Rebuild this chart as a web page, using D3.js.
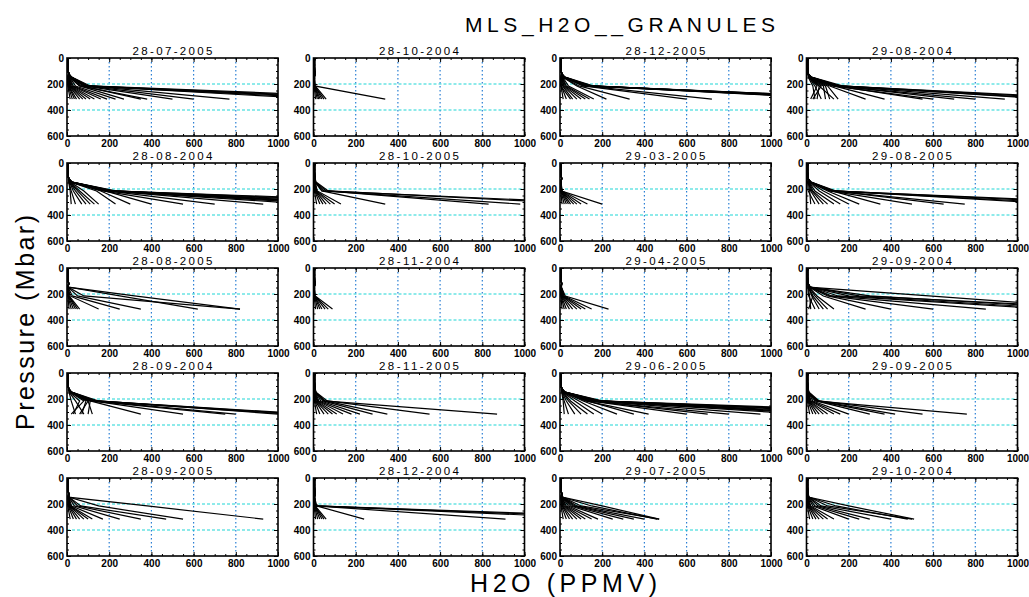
<!DOCTYPE html>
<html>
<head>
<meta charset="utf-8">
<script src="https://cdn.jsdelivr.net/npm/d3@7"></script>
<style>
  body { margin: 0; background: #fff; }
  text { font-family: "Liberation Sans", Arial, sans-serif; }
</style>
</head>
<body>
<div id="chart"></div>
<script>
// panel dates, row by row
var dates = ["28-07-2005", "28-10-2004", "28-12-2005", "29-08-2004",
             "28-08-2004", "28-10-2005", "29-03-2005", "29-08-2005",
             "28-08-2005", "28-11-2004", "29-04-2005", "29-09-2004",
             "28-09-2004", "28-11-2005", "29-06-2005", "29-09-2005",
             "28-09-2005", "28-12-2004", "29-07-2005", "29-10-2004"];

// pressure levels (mbar) of each profile value, and the shared upper part
var levels = [316, 215, 147];
var upperLevels = [121, 100, 68, 46, 22, 10, 1, 0.1];
var upperH2O = [8, 6, 5, 5, 5, 6, 7, 5];

// tick labels
var xTicks = [0, 200, 400, 600, 800, 1000];
var yTicks = [0, 200, 400, 600];

// H2O (ppmv) at 316, 215, 147 mbar for every profile of a granule
var profiles = [
  [[15,4,3],[25,6,4],[35,8,4],[45,8,5],[60,10,5],[75,12,6],[90,14,6],[110,16,7],[130,20,8],[160,25,9],[190,30,10],[230,40,12],
   [270,60,12],[350,70,14],[380,60,12],[500,80,15],[600,90,16],[770,100,18],
   [1200,90,18],[1320,80,20],[1420,100,20],[1550,90,22],[1700,110,22]],
  [[10,3,3],[18,4,3],[25,5,4],[32,4,4],[40,6,4],[50,5,5],[60,8,5],[340,5,4]],
  [[15,5,4],[30,6,5],[50,4,4],[60,12,6],[80,16,8],[100,20,8],[120,25,10],[140,30,10],[160,40,12],
   [220,80,12],[330,90,14],[600,110,15],[720,120,16],
   [1350,130,20],[1400,140,22],[1450,120,20],[1500,150,22],[1550,130,20],[1600,140,22],[1450,160,24],[1650,110,18]],
  [[20,50,10],[30,70,12],[40,30,8],[50,60,10],[70,40,10],[90,80,12],[110,90,14],[130,60,12],[150,100,15],
   [280,110,15],[370,130,16],[550,140,18],[600,120,16],[700,150,18],[800,130,18],[940,150,20],
   [1200,140,20],[1300,160,22],[1400,150,22],[1150,170,24]],
  [[20,15,8],[40,20,10],[70,30,12],[90,40,12],[110,50,14],[130,60,15],[150,80,16],
   [230,140,16],[300,160,18],[400,180,18],[550,170,18],[700,190,20],[930,200,20],
   [1150,180,20],[1250,200,22],[1350,190,22],[1500,210,24],[1650,200,22],[1800,220,25],[2000,210,24],[1400,230,25]],
  [[15,4,4],[30,6,5],[45,8,5],[60,10,6],[80,12,6],[100,14,8],[130,18,8],
   [340,40,8],[830,60,10],[980,50,10],[1450,40,8],[1300,70,12]],
  [[10,3,3],[20,4,3],[30,5,3],[40,5,4],[50,6,4],[65,6,4],[80,8,5],[100,8,5],[130,10,5],[200,8,5]],
  [[20,15,8],[40,8,5],[60,20,10],[80,25,10],[100,30,12],[130,40,12],[160,60,14],[200,80,15],
   [250,100,15],[350,120,16],[500,110,16],[650,130,18],[750,120,18],
   [1300,120,20],[1450,130,22],[1200,140,22],[1600,110,18]],
  [[10,4,4],[20,5,4],[30,6,4],[40,8,5],[50,8,5],[60,10,5],
   [150,15,5],[250,25,5],[350,50,5],[620,250,5],[820,320,6],[820,80,5]],
  [[10,3,3],[20,4,3],[30,5,3],[40,5,4],[55,6,4],[70,6,4],[90,8,5]],
  [[10,4,3],[20,5,4],[30,6,4],[45,8,5],[60,10,5],[80,12,5],[100,14,6],[120,16,6],[150,20,7],[230,25,6]],
  [[20,15,8],[40,10,6],[10,30,8],[60,25,10],[80,30,10],[100,40,12],[130,50,12],
   [280,80,14],[400,100,15],[600,110,16],[850,120,18],
   [1430,580,10],[1350,300,15],[1250,200,18],[1150,150,18],[1500,250,16]],
  [[20,80,15],[40,20,10],[60,100,20],[30,60,12],[80,40,10],[100,110,20],[70,90,18],[120,100,15],
   [350,110,18],[550,120,18],[750,110,18],[800,130,20],
   [1050,120,20],[1100,140,22],[1150,130,20],[1000,150,22]],
  [[15,4,4],[30,6,5],[50,8,5],[70,10,6],[90,12,6],[110,16,8],[140,20,8],[180,25,10],[220,35,10],[280,45,10],
   [350,55,10],[550,65,12],[870,50,10]],
  [[20,15,8],[40,20,10],[70,30,10],[100,40,12],[130,50,14],[160,70,14],[200,90,15],
   [270,110,16],[350,130,16],[420,120,18],[600,140,18],[700,150,20],[800,130,18],[950,160,20],
   [1150,150,20],[1250,170,22],[1350,160,22],[1450,180,24],[1600,170,22],[1800,160,22],[2000,180,24],[1300,200,25],[1700,190,24]],
  [[15,4,4],[30,6,5],[45,8,5],[60,10,6],[80,12,6],[100,14,8],[130,18,8],[160,22,8],[200,30,10],
   [300,45,10],[370,50,10],[420,55,10],[550,60,12],[760,40,8]],
  [[15,4,4],[30,6,5],[45,8,5],[60,10,6],[80,12,6],[100,14,7],[120,16,8],
   [170,22,8],[250,35,8],[350,50,10],[470,65,10],[550,150,8],[930,380,6]],
  [[10,3,3],[20,4,3],[30,5,4],[40,6,4],[50,6,4],[60,8,5],
   [240,15,5],[910,10,5],[1450,10,5],[1650,8,4],[1800,12,5]],
  [[15,5,4],[30,7,5],[45,10,5],[60,12,6],[80,16,6],[100,20,7],[120,25,8],[150,30,8],
   [180,40,8],[250,50,10],[300,60,10],[350,70,10],[400,80,12],[470,100,12],[460,150,10],[470,200,10]],
  [[15,4,4],[30,6,5],[45,8,5],[60,10,6],[80,12,6],[100,16,7],[130,20,8],
   [200,30,8],[250,40,8],[300,55,10],[400,70,10],[500,100,12],[510,200,8],[480,140,10]]
];

// page and panel layout
var W = 1029, H = 597;
var colX = [67, 313.5, 560, 806.5],
    rowY = [58, 163, 268, 373, 478],
    pw = 211, ph = 78;

var svg = d3.select("#chart")
  .append("svg")
    .attr("width", W)
    .attr("height", H);

// scales shared by every panel
var x = d3.scaleLinear().domain([0, 1000]).range([0, pw]);
var y = d3.scaleLinear().domain([0, 600]).range([0, ph]);

var line = d3.line()
  .x(function(d) { return x(d[0]); })
  .y(function(d) { return y(d[1]); });

svg.append("defs").append("clipPath")
    .attr("id", "clip")
  .append("rect")
    .attr("width", pw)
    .attr("height", ph);

dates.forEach(function(date, i) {
  var g = svg.append("g")
    .attr("transform", "translate(" + colX[i % 4] + "," + rowY[Math.floor(i / 4)] + ")");

  // grid
  g.selectAll(".vgrid")
    .data([200, 400, 600, 800])
    .enter().append("line")
      .attr("x1", function(d) { return x(d); })
      .attr("x2", function(d) { return x(d); })
      .attr("y1", 0).attr("y2", ph)
      .style("stroke", "#2a7fd4")
      .style("stroke-width", 1.2)
      .style("stroke-dasharray", "1.5,2.5");
  g.selectAll(".hgrid")
    .data([200, 400])
    .enter().append("line")
      .attr("x1", 0).attr("x2", pw)
      .attr("y1", function(d) { return y(d); })
      .attr("y2", function(d) { return y(d); })
      .style("stroke", "#1ed6d6")
      .style("stroke-width", 1.1)
      .style("stroke-dasharray", "3,2");

  // profiles
  g.append("g")
    .attr("clip-path", "url(#clip)")
    .selectAll("path")
    .data(profiles[i])
    .enter().append("path")
      .attr("d", function(p) {
        var pts = levels.map(function(lv, k) { return [p[k], lv]; });
        upperLevels.forEach(function(lv, k) { pts.push([upperH2O[k], lv]); });
        return line(pts);
      })
      .style("fill", "none")
      .style("stroke", "#000")
      .style("stroke-width", 1.2);

  // axes, ticks pointing inwards like IDL
  g.append("g")
    .attr("transform", "translate(0," + ph + ")")
    .call(d3.axisBottom(x).tickValues(xTicks).tickSize(-4).tickPadding(4).tickFormat(d3.format("d")))
    .call(function(a) { a.select(".domain").remove(); });
  g.append("g")
    .call(d3.axisLeft(y).tickValues(yTicks).tickSize(-4).tickPadding(3).tickFormat(d3.format("d")))
    .call(function(a) { a.select(".domain").remove(); });
  g.append("g")
    .call(d3.axisTop(x).tickValues(xTicks).tickSize(-4).tickFormat(""))
    .call(function(a) { a.select(".domain").remove(); });
  g.append("g")
    .attr("transform", "translate(" + pw + ",0)")
    .call(d3.axisRight(y).tickValues(yTicks).tickSize(-4).tickFormat(""))
    .call(function(a) { a.select(".domain").remove(); });
  // minor ticks
  g.append("g")
    .attr("transform", "translate(0," + ph + ")")
    .call(d3.axisBottom(x).ticks(20).tickSize(-2).tickFormat(""))
    .call(function(a) { a.select(".domain").remove(); });
  g.append("g")
    .call(d3.axisTop(x).ticks(20).tickSize(-2).tickFormat(""))
    .call(function(a) { a.select(".domain").remove(); });
  g.append("g")
    .call(d3.axisLeft(y).ticks(12).tickSize(-2).tickFormat(""))
    .call(function(a) { a.select(".domain").remove(); });
  g.append("g")
    .attr("transform", "translate(" + pw + ",0)")
    .call(d3.axisRight(y).ticks(12).tickSize(-2).tickFormat(""))
    .call(function(a) { a.select(".domain").remove(); });

  g.selectAll(".tick line").style("stroke", "#000").style("stroke-width", 1);
  g.selectAll(".tick text")
    .style("font-size", "10px")
    .style("font-weight", "bold")
    .style("fill", "#000");

  g.append("rect")
    .attr("width", pw)
    .attr("height", ph)
    .style("fill", "none")
    .style("stroke", "#000")
    .style("stroke-width", 1.6);

  g.append("text")
    .attr("x", pw / 2 - 40)
    .attr("y", -3)
    .attr("textLength", 80)
    .attr("lengthAdjust", "spacing")
    .style("font-size", "11.5px")
    .text(date);
});

// titles
svg.append("text")
  .attr("x", 465).attr("y", 32)
  .attr("textLength", 310)
  .attr("lengthAdjust", "spacing")
  .style("font-size", "21px")
  .text("MLS_H2O__GRANULES");

svg.append("text")
  .attr("x", 470).attr("y", 592)
  .attr("textLength", 187)
  .attr("lengthAdjust", "spacing")
  .style("font-size", "25px")
  .text("H2O (PPMV)");

svg.append("text")
  .attr("transform", "translate(34,430) rotate(-90)")
  .attr("textLength", 215)
  .attr("lengthAdjust", "spacing")
  .style("font-size", "25px")
  .text("Pressure (Mbar)");
</script>
</body>
</html>
